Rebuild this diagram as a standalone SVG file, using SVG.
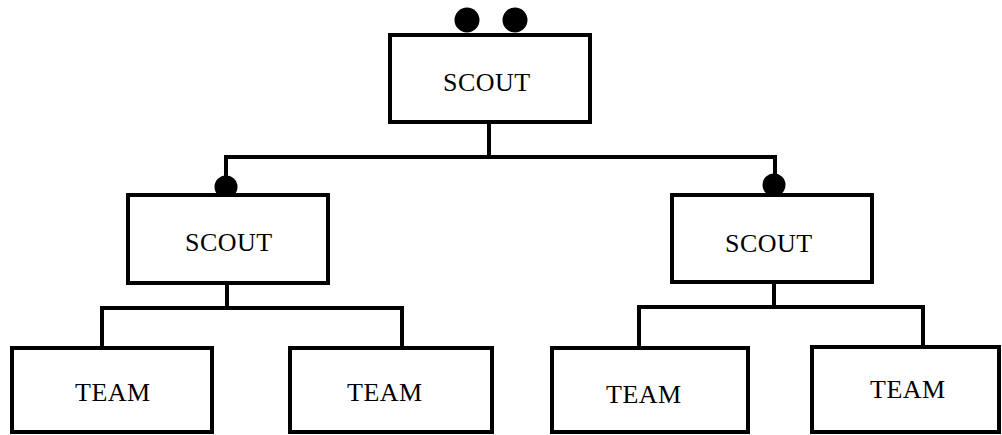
<svg xmlns="http://www.w3.org/2000/svg" width="1002" height="435" viewBox="0 0 1002 435">
  <style>
    .box { fill: #ffffff; stroke: #000000; stroke-width: 4; }
    .wire { fill: none; stroke: #000000; stroke-width: 4; stroke-linejoin: miter; }
    .dot { fill: #000000; }
    .label { font-family: "Liberation Serif", "Times New Roman", serif; font-size: 26px; letter-spacing: 0.5px; fill: #000000; }
  </style>
  <rect width="1002" height="435" fill="#ffffff"/>

  <!-- tree connectors -->
  <g id="connectors">
    <path class="wire" d="M489 122 V156"/>
    <path class="wire" d="M226 195 V157 H775 V195"/>
    <path class="wire" d="M227 283 V308"/>
    <path class="wire" d="M102 348 V308 H402 V348"/>
    <path class="wire" d="M774 282 V307"/>
    <path class="wire" d="M639 348 V307 H923 V347"/>
  </g>

  <!-- top-level scout with its two markers -->
  <g id="scout-top">
    <circle class="dot" cx="467" cy="20" r="12.5"/>
    <circle class="dot" cx="515" cy="20" r="12.5"/>
    <rect class="box" x="390" y="35" width="200" height="87"/>
    <text class="label" x="443" y="91">SCOUT</text>
  </g>

  <g id="scout-left">
    <circle class="dot" cx="226" cy="187" r="11.5"/>
    <rect class="box" x="128" y="195" width="200" height="88"/>
    <text class="label" x="185" y="251">SCOUT</text>
  </g>

  <g id="scout-right">
    <circle class="dot" cx="774" cy="185" r="11.5"/>
    <rect class="box" x="672" y="195" width="200" height="87"/>
    <text class="label" x="725" y="252">SCOUT</text>
  </g>

  <g id="team-1">
    <rect class="box" x="12" y="348" width="200" height="84"/>
    <text class="label" x="75" y="401">TEAM</text>
  </g>

  <g id="team-2">
    <rect class="box" x="290" y="348" width="202" height="84"/>
    <text class="label" x="347" y="401">TEAM</text>
  </g>

  <g id="team-3">
    <rect class="box" x="552" y="348" width="196" height="84"/>
    <text class="label" x="606" y="403">TEAM</text>
  </g>

  <g id="team-4">
    <rect class="box" x="812" y="347" width="187" height="85"/>
    <text class="label" x="870" y="398">TEAM</text>
  </g>
</svg>
